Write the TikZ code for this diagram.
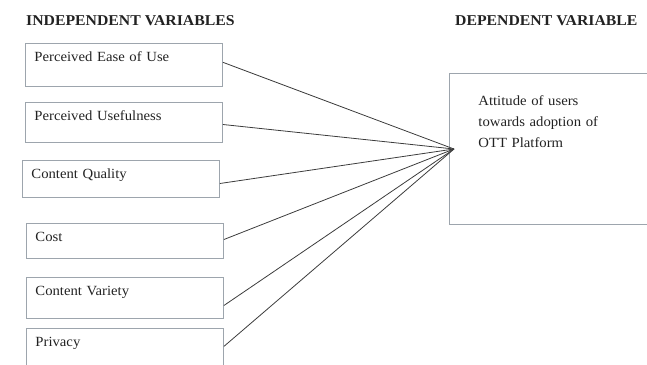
\documentclass[tikz,border=0pt]{standalone}
\usepackage{fontspec}
\setmainfont[FakeStretch=1.05]{Liberation Serif}
\usetikzlibrary{calc}
\definecolor{boxgray}{HTML}{9DA5AD}
\definecolor{linegray}{HTML}{3C3C3C}
\definecolor{inkgray}{HTML}{222222}

\begin{document}
\begin{tikzpicture}[x=1pt,y=-1pt,
  varbox/.style={draw=boxgray,line width=0.9pt,anchor=north west,
    text width=179pt,inner xsep=9pt,inner ysep=0pt,align=left,
    text height=18.5pt,text depth=#1,text=inkgray,
    font=\fontsize{14}{21}\selectfont},
  head/.style={anchor=base west,inner sep=0pt,text=inkgray,
    font=\fontsize{15}{18}\selectfont\bfseries},
  link/.style={draw=linegray,line width=0.8pt}]
\useasboundingbox (0,0) rectangle (647,364);
%
\node[head] (indep) at (26,25) {INDEPENDENT VARIABLES};
\node[head] (dep) at (455,25) {DEPENDENT VARIABLE};
%
\node[varbox=24.5pt] (ease) at (25,43) {Perceived Ease of Use};
\node[varbox=21.5pt] (useful) at (25,102) {Perceived Usefulness};
\node[varbox=18.5pt] (quality) at (22,160) {Content Quality};
\node[varbox=16.5pt] (cost) at (26,223) {Cost};
\node[varbox=22.5pt] (variety) at (26,277) {Content Variety};
\node[varbox=21.5pt] (privacy) at (26,328) {Privacy};
%
\node[draw=boxgray,line width=0.9pt,anchor=north west,text width=150pt,
  inner xsep=29pt,inner ysep=0pt,align=left,text height=32.5pt,
  text depth=118.5pt,text=inkgray,font=\fontsize{14}{21}\selectfont]
  (attitude) at (449,73) {Attitude of users\\towards adoption of\\OTT Platform};
\coordinate (hub) at ($(attitude.north west)+(5,76)$);
%
\foreach \n/\f in {ease/.44,useful/.55,quality/.62,cost/.46,variety/.68,privacy/.45}
  \draw[link] ($(\n.north east)!\f!(\n.south east)$) -- (hub);
\end{tikzpicture}
\end{document}
